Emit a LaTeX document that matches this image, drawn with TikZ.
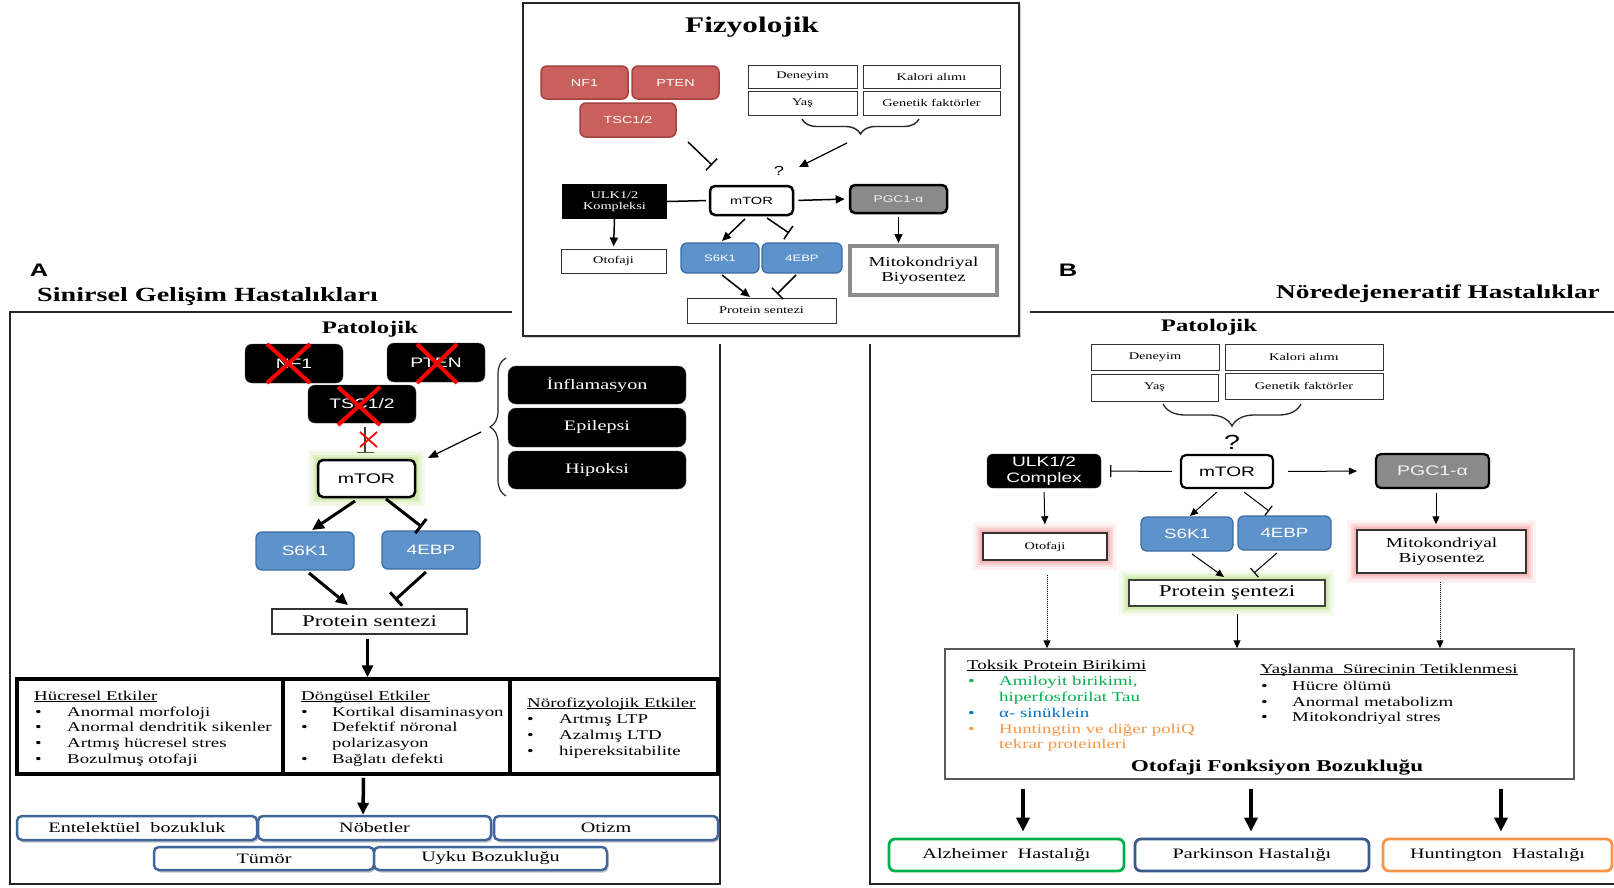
\documentclass[tikz,border=0pt]{standalone}
\usepackage{fontspec}
\setmainfont{Liberation Serif}[FakeStretch=1.4]
\setsansfont{Liberation Sans}[FakeStretch=1.4]
\usetikzlibrary{arrows.meta,decorations.pathreplacing,shadows,backgrounds}
\definecolor{redf}{HTML}{C9605C}
\definecolor{redd}{HTML}{A3423F}
\definecolor{bluef}{HTML}{5E92CB}
\definecolor{blued}{HTML}{3D6EA6}
\definecolor{pgcf}{HTML}{8A8A8A}
\definecolor{bbord}{HTML}{41669B}
\definecolor{olived}{HTML}{4F6228}
\definecolor{glowg}{HTML}{B5DC7A}
\definecolor{glowr}{HTML}{F08C8C}
\definecolor{gtxt}{HTML}{00B050}
\definecolor{btxt}{HTML}{0070C0}
\definecolor{otxt}{HTML}{F79646}
\definecolor{parc}{HTML}{3A5A8C}
\newcommand\fz[2]{\fontsize{\fpeval{#1*0.93}}{\fpeval{#2*0.93}}\selectfont}
\newcommand\ul[1]{\underline{\smash{#1}}}
\newcommand\bx[7]{\node[#2, minimum width={#5-#3}, minimum height={#6-#4}, inner sep=0pt] (#1) at ({(#3+#5)/2},{(#4+#6)/2}) {#7};}
\newcommand\glow[2]{\begin{pgfonlayer}{background}\foreach \w/\o in {18/0.10,13/0.15,8/0.22,4/0.32}{\draw[line width=\w pt, draw=#2, opacity=\o] (#1.south west) rectangle (#1.north east);}\end{pgfonlayer}}
\newcommand\itm[6]{\node[txt,#6] (#1b) at (#2,#4) {•}; \node[txt,#6] (#1) at (#3,#4) {#5};}
\tikzset{
 redbox/.style={draw=redd, fill=redf, line width=1.5pt, rounded corners=6pt, text=white, font=\sffamily\fz{11}{12}},
 blkA/.style={fill=black, draw=black!70, rounded corners=7pt, text=white, font=\sffamily\fz{14.8}{16}},
 blkI/.style={fill=black, draw=black!70, rounded corners=8pt, text=white, font=\rmfamily\fz{15.5}{17}},
 ulkT/.style={fill=black, text=white, align=center, font=\rmfamily\fz{11}{12}},
 ulkB/.style={fill=black, draw=black!80, rounded corners=6pt, text=white, align=center, font=\sffamily\fz{14.7}{16.5}},
 bluebox/.style={draw=blued, fill=bluef, line width=1.3pt, rounded corners=6pt, text=white},
 plain/.style={draw=black!80, line width=1pt, fill=white, font=\rmfamily\fz{11}{12}},
 mtor/.style={draw=black, line width=2.5pt, rounded corners=5pt, fill=white},
 pgc/.style={draw=black, line width=2.5pt, rounded corners=5pt, fill=pgcf, text=gray!10},
 dis/.style={draw=bbord, line width=2.5pt, rounded corners=5pt, fill=white, font=\rmfamily\fz{15.5}{17}, drop shadow={shadow xshift=1.5pt, shadow yshift=-2.5pt, fill=black!45}},
 dz/.style={line width=2.8pt, rounded corners=6pt, fill=white, font=\rmfamily\fz{15.5}{17}},
 arr/.style={-{Triangle[length=9pt,width=8pt]}, line width=1.3pt},
 arrs/.style={-{Triangle[length=8pt,width=7pt]}, line width=1pt},
 inh/.style={-{Bar[width=16pt,line width=1.5pt]}, line width=1.3pt},
 inhs/.style={-{Bar[width=12pt,line width=1.2pt]}, line width=1pt},
 thk/.style={-{Triangle[length=12pt,width=11pt]}, line width=3pt},
 thkinh/.style={-{Bar[width=18pt,line width=3pt]}, line width=3pt},
 big/.style={-{Triangle[length=14pt,width=13pt]}, line width=3.5pt},
 brc/.style={line width=1.4pt, draw=black!85, decorate},
 txt/.style={anchor=base west, inner sep=0pt, font=\rmfamily\fz{14.5}{16}},
 redx/.style={red, line width=4pt},
}
\begin{document}
\begin{tikzpicture}[x=1pt,y=-1pt]
\begin{pgfonlayer}{background}\fill[white] (0,0) rectangle (1614,887);\end{pgfonlayer}
\useasboundingbox (0,0) rectangle (1614,887);
% frames
\draw[line width=1.3pt, black!85] (10,312) rectangle (720,884);
\draw[line width=1.3pt, black!85] (1614,312) -- (870,312) -- (870,884) -- (1614,884);
\fill[white] (512,0) rectangle (1030,344);
% ===== top box =====
\node[draw=black!85, line width=2.2pt, fill=white, minimum width=496, minimum height=333, inner sep=0pt, drop shadow={shadow xshift=2pt, shadow yshift=-2pt, fill=black!35}] (topbox) at (771,169.5) {};
\node[font=\rmfamily\bfseries\fz{24}{26}] (fiz) at (752,27) {Fizyolojik};
\bx{nfT}{redbox}{541}{66}{628}{99}{NF1}
\bx{ptT}{redbox}{632}{66}{719}{99}{PTEN}
\bx{tscT}{redbox}{580}{103}{676}{137}{TSC1/2}
\bx{denT}{plain}{748}{65}{857}{88}{Deneyim}
\bx{kalT}{plain}{863}{65}{1000}{88}{Kalori alımı}
\bx{yasT}{plain}{748}{91}{857}{115}{Yaş}
\bx{genT}{plain}{863}{91}{1000}{115}{Genetik faktörler}
\draw[brc, decoration={brace, amplitude=15pt}] (919,119) -- (802,119);
\coordinate (qT1) at (847,143); \coordinate (qT2) at (799,167);
\draw[arr] (qT1) -- (qT2);
\node[font=\sffamily\fz{14}{14}] (qmT) at (779,171) {?};
\coordinate (iT1) at (688,142); \coordinate (iT2) at (712,165);
\draw[inh, line width=1.5pt] (iT1) -- (iT2);
\bx{mtorT}{mtor, font=\sffamily\fz{11.2}{12}}{710}{186}{793}{215}{mTOR}
\bx{ulkT}{ulkT}{562}{184}{667}{219}{ULK1/2\\Kompleksi}
\bx{pgcT}{pgc, font=\sffamily\fz{10.5}{12}}{850}{185}{947}{213}{PGC1-α}
\bx{otoT}{plain}{561}{249}{666}{273}{Otofaji}
\bx{s6T}{bluebox, font=\sffamily\fz{10}{12}}{681}{243}{759}{273}{S6K1}
\bx{ebT}{bluebox, font=\sffamily\fz{10}{12}}{762}{243}{842}{273}{4EBP}
\bx{proT}{plain}{687}{298}{836}{323}{Protein sentezi}
\bx{mitoT}{draw=black!45, line width=4pt, fill=white, align=center, font=\rmfamily\fz{14.6}{16}}{850}{246}{997}{295}{Mitokondriyal\\Biyosentez}
\draw[line width=1.5pt, shorten <=3pt] (mtorT.west) -- (ulkT.east);
\draw[arr, line width=1.5pt, shorten <=4pt, shorten >=4pt] (mtorT.east) -- (pgcT.west);
\draw[arr, line width=1.5pt, shorten >=2pt] (ulkT.south) -- (otoT.north);
\draw[arr, line width=1.5pt, shorten <=3pt, shorten >=1pt] (pgcT.south) -- (pgcT.south |- mitoT.north);
\coordinate (a1) at (745,219); \coordinate (a2) at (722,241);
\draw[arr, line width=1.5pt] (a1) -- (a2);
\coordinate (b1) at (767,218); \coordinate (b2) at (789,233);
\draw[inh, line width=1.5pt] (b1) -- (b2);
\coordinate (c1) at (722,275); \coordinate (c2) at (750,297);
\draw[arr, line width=1.5pt] (c1) -- (c2);
\coordinate (dd1) at (796,275); \coordinate (dd2) at (777,294);
\draw[inh, line width=1.5pt] (dd1) -- (dd2);
% ===== panel A =====
\node[font=\sffamily\bfseries\fz{19.5}{20}] (labA) at (39,270) {A};
\node[anchor=west, inner sep=0pt, font=\rmfamily\bfseries\fz{21.6}{23}] (titA) at (37,297) {Sinirsel Gelişim Hastalıkları};
\node[font=\rmfamily\bfseries\fz{19}{20}] (patA) at (370,329) {Patolojik};
\bx{nfA}{blkA}{245}{344}{343}{383}{NF1}
\bx{ptA}{blkA}{387}{343}{485}{382}{PTEN}
\bx{tscA}{blkA}{308}{385}{416}{423}{TSC1/2}
\draw[redx] (267,344) -- (310,383); \draw[redx] (310,344) -- (267,383);
\draw[redx] (417,344) -- (457,383); \draw[redx] (457,344) -- (417,383);
\draw[redx] (338,387) -- (380,425); \draw[redx] (380,387) -- (338,425);
\bx{mtorA}{mtor, font=\sffamily\fz{15}{16}}{318}{460}{415}{497}{mTOR}
\glow{mtorA}{glowg}
\coordinate (tA1) at (365,427); \coordinate (tA2) at (365,453);
\draw[line width=1.2pt, black!75, -{Bar[width=17pt,line width=1.5pt,color=olived]}] (tA1) -- (tA2);
\draw[red, line width=1.8pt] (360,432) -- (377,447); \draw[red, line width=1.8pt] (377,432) -- (360,447);
\bx{infA}{blkI}{508}{366}{686}{404}{İnflamasyon}
\bx{epiA}{blkI}{508}{408}{686}{447}{Epilepsi}
\bx{hipA}{blkI}{508}{451}{686}{489}{Hipoksi}
\draw[brc, line width=1.2pt, decoration={brace, amplitude=16pt}] (506,496) -- (506,358);
\coordinate (eA1) at (481,432); \coordinate (eA2) at (428,458);
\draw[arr, line width=1.2pt, -{Triangle[length=10pt,width=8pt]}] (eA1) -- (eA2);
\bx{s6A}{bluebox, font=\sffamily\fz{14.6}{16}}{256}{532}{354}{570}{S6K1}
\bx{ebA}{bluebox, font=\sffamily\fz{14.6}{16}}{382}{531}{480}{569}{4EBP}
\coordinate (fA1) at (355,501); \coordinate (fA2) at (312,530);
\draw[thk] (fA1) -- (fA2);
\coordinate (gA1) at (386,499); \coordinate (gA2) at (422,527);
\draw[thkinh] (gA1) -- (gA2);
\bx{proA}{plain, line width=1.2pt, font=\rmfamily\fz{17.5}{19}}{272}{609}{467}{634}{Protein sentezi}
\coordinate (hA1) at (309,573); \coordinate (hA2) at (348,605);
\draw[thk] (hA1) -- (hA2);
\coordinate (jA1) at (426,572); \coordinate (jA2) at (395,600);
\draw[thkinh] (jA1) -- (jA2);
\bx{effA}{draw=black, line width=3.5pt, fill=white}{17}{679}{718}{774}{}
\draw[line width=3.5pt] (283,679) -- (283,774);
\draw[line width=3.5pt] (510,679) -- (510,774);
\draw[thk, line width=3.5pt] (proA.south -| effA.north) ++(0,4) -- (effA.north);
\node[txt] (hucH) at (34,700) {\ul{Hücresel Etkiler}};
\itm{h1}{35}{67}{716}{Anormal morfoloji}{}
\itm{h2}{35}{67}{731.5}{Anormal dendritik sikenler}{}
\itm{h3}{35}{67}{747}{Artmış hücresel stres}{}
\itm{h4}{35}{67}{763}{Bozulmuş otofaji}{}
\node[txt] (donH) at (301,700) {\ul{Döngüsel Etkiler}};
\itm{k1}{301}{332}{716}{Kortikal disaminasyon}{}
\itm{k2}{301}{332}{731.5}{Defektif nöronal}{}
\node[txt] (k2c) at (332,747) {polarizasyon};
\itm{k3}{301}{332}{763}{Bağlatı defekti}{}
\node[txt] (norH) at (527,707) {\ul{Nörofizyolojik Etkiler}};
\itm{n1}{527}{559}{723.5}{Artmış LTP}{}
\itm{n2}{527}{559}{739}{Azalmış LTD}{}
\itm{n3}{527}{559}{755}{hipereksitabilite}{}
\bx{entA}{dis}{17}{816}{257}{840}{Entelektüel\ \ bozukluk}
\bx{nobA}{dis}{258}{816}{491}{840}{Nöbetler}
\bx{otzA}{dis}{494}{816}{718}{840}{Otizm}
\bx{tumA}{dis}{154}{847}{374}{870}{Tümör}
\bx{uykA}{dis}{374}{847}{607}{870}{Uyku Bozukluğu}
\draw[thk, line width=3.5pt] (effA.south) ++(-4,2) -- (nobA.north -| 363,0);
% ===== panel B =====
\node[font=\sffamily\bfseries\fz{19.5}{20}] (labB) at (1068,270) {B};
\node[font=\rmfamily\bfseries\fz{21}{22}] (titB) at (1438,294) {Nöredejeneratif Hastalıklar};
\node[font=\rmfamily\bfseries\fz{19}{20}] (patB) at (1209,327) {Patolojik};
\bx{denB}{plain}{1091}{344}{1219}{370}{Deneyim}
\bx{kalB}{plain}{1225}{344}{1383}{370}{Kalori alımı}
\bx{yasB}{plain}{1091}{374}{1218}{401}{Yaş}
\bx{genB}{plain}{1225}{373}{1383}{399}{Genetik faktörler}
\draw[brc, line width=1.3pt, decoration={brace, amplitude=22pt}] (1301,404) -- (1163,404);
\node[font=\sffamily\fz{22}{22}] (qmB) at (1232,442) {?};
\bx{mtorB}{mtor, line width=2.2pt, font=\sffamily\fz{14.7}{16}}{1181}{455}{1273}{488}{mTOR}
\bx{ulkB}{ulkB}{987}{454}{1101}{488}{ULK1/2\\Complex}
\bx{pgcB}{pgc, line width=2.2pt, font=\sffamily\fz{15}{16}}{1376}{454}{1489}{488}{PGC1-α}
\draw[inhs, shorten <=8pt, shorten >=9pt] (mtorB.west) -- (ulkB.east);
\draw[arrs, shorten <=14pt, shorten >=18pt] (mtorB.east) -- (pgcB.west);
\bx{otoB}{plain, line width=1.5pt}{983}{533}{1107}{560}{Otofaji}
\glow{otoB}{glowr}
\bx{mitoB}{plain, line width=1.5pt, align=center, font=\rmfamily\fz{14.8}{16}}{1357}{530}{1526}{573}{Mitokondriyal\\Biyosentez}
\glow{mitoB}{glowr}
\draw[arrs, shorten <=4pt, shorten >=8pt] (ulkB.south) -- (otoB.north);
\draw[arrs, shorten <=4pt, shorten >=5pt] (pgcB.south -| 1436,0) -- (mitoB.north -| 1436,0);
\bx{s6B}{bluebox, font=\sffamily\fz{14.4}{16}}{1141}{517}{1233}{551}{S6K1}
\bx{ebB}{bluebox, font=\sffamily\fz{14.4}{16}}{1238}{516}{1331}{550}{4EBP}
\coordinate (kB1) at (1217,492); \coordinate (kB2) at (1190,516);
\draw[arrs] (kB1) -- (kB2);
\coordinate (lB1) at (1244,492); \coordinate (lB2) at (1269,511);
\draw[inhs] (lB1) -- (lB2);
\bx{proB}{plain, line width=1.5pt, draw=black!75, font=\rmfamily\fz{17.7}{19}}{1129}{580}{1325}{606}{Protein şentezi}
\glow{proB}{glowg}
\coordinate (mB1) at (1192,554); \coordinate (mB2) at (1224,577);
\draw[arrs] (mB1) -- (mB2);
\coordinate (nB1) at (1277,553); \coordinate (nB2) at (1254,573);
\draw[inhs] (nB1) -- (nB2);
\bx{ofB}{draw=black!65, line width=1.5pt, fill=white}{945}{649}{1574}{779}{}
\draw[arrs, densely dotted, line width=1pt, shorten <=14pt] (otoB.south -| 1047,0) -- (ofB.north -| 1047,0);
\draw[arrs, shorten <=7pt] (proB.south -| 1237,0) -- (ofB.north -| 1237,0);
\draw[arrs, densely dotted, line width=1pt, shorten <=8pt] (mitoB.south -| 1440,0) -- (ofB.north -| 1440,0);
\node[txt] (tokH) at (967,669) {\ul{Toksik Protein Birikimi}};
\itm{t1}{968}{999}{685}{Amiloyit birikimi,}{text=gtxt}
\node[txt, text=gtxt] (t1c) at (999,701) {hiperfosforilat Tau};
\itm{t2}{968}{999}{717}{α- sinüklein}{text=btxt}
\itm{t3}{968}{999}{733}{Huntingtin ve diğer poliQ}{text=otxt}
\node[txt, text=otxt] (t3c) at (999,748) {tekrar proteinleri};
\node[txt] (yasH) at (1260,673) {\ul{Yaşlanma\ \ Sürecinin Tetiklenmesi}};
\itm{y1}{1261}{1292}{690}{Hücre ölümü}{}
\itm{y2}{1261}{1292}{706}{Anormal metabolizm}{}
\itm{y3}{1261}{1292}{721}{Mitokondriyal stres}{}
\node[font=\rmfamily\bfseries\fz{17.8}{19}] (ofT) at (1277,767) {Otofaji Fonksiyon Bozukluğu};
\bx{alzB}{dz, draw=gtxt}{889}{839}{1124}{871}{Alzheimer\ \ Hastalığı}
\bx{parB}{dz, draw=parc}{1135}{839}{1369}{871}{Parkinson Hastalığı}
\bx{hunB}{dz, draw=otxt}{1383}{839}{1612}{871}{Huntington\ \ Hastalığı}
\draw[big, shorten <=9pt, shorten >=6pt] (ofB.south -| 1023,0) -- (alzB.north -| 1023,0);
\draw[big, shorten <=9pt, shorten >=6pt] (ofB.south -| 1251,0) -- (parB.north -| 1251,0);
\draw[big, shorten <=9pt, shorten >=6pt] (ofB.south -| 1501,0) -- (hunB.north -| 1501,0);
\end{tikzpicture}
\end{document}
